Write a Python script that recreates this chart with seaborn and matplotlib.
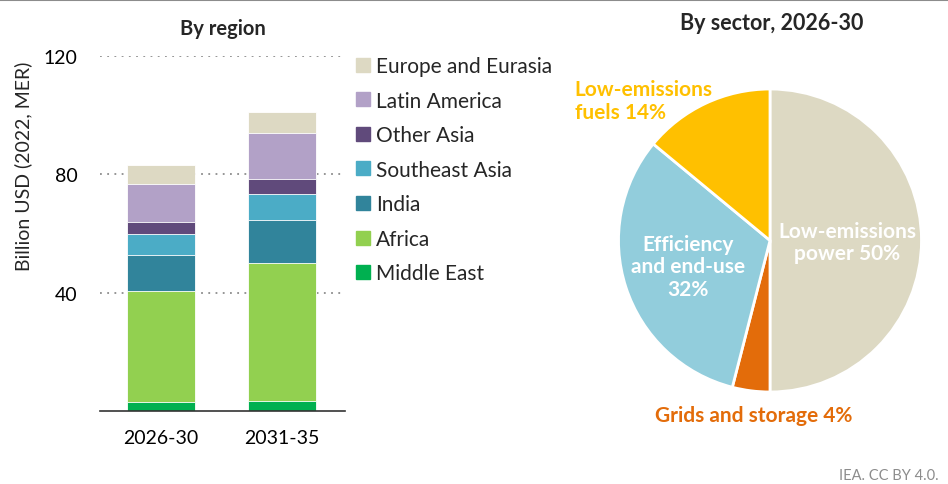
import numpy as np
import pandas as pd
import matplotlib.pyplot as plt
import seaborn as sns

# data
periods = ['2026-30', '2031-35']
regions = ['Middle East', 'Africa', 'India', 'Southeast Asia', 'Other Asia',
           'Latin America', 'Europe and Eurasia']
region_vals = {
    'Middle East': [3.2, 3.4],
    'Africa': [37.5, 46.5],
    'India': [12.0, 14.7],
    'Southeast Asia': [7.0, 8.7],
    'Other Asia': [4.1, 5.1],
    'Latin America': [13.0, 15.5],
    'Europe and Eurasia': [6.3, 7.1],
}
region_cols = ['#00B050', '#92D050', '#31849B', '#4BACC6', '#604A7B',
               '#B2A1C7', '#DDD9C3']

sectors = ['Low-emissions\npower 50%', 'Grids and storage 4%',
           'Efficiency\nand end-use\n32%', 'Low-emissions\nfuels 14%']
sector_share = [50, 4, 32, 14]
sector_cols = ['#DDD9C3', '#E36C0A', '#92CDDC', '#FFC000']

sns.set_theme(style='white')
plt.rcParams['font.family'] = ['Lato', 'DejaVu Sans']

fig = plt.figure(figsize=(9.48, 4.85), dpi=100)
ax = fig.add_axes([100 / 948, 1 - 412 / 485, 245 / 948, 355 / 485])

df = pd.DataFrame(region_vals, index=periods)
cum = df.cumsum(axis=1)
# draw cumulative totals from the top down so each segment shows
for reg, col in reversed(list(zip(regions, region_cols))):
    d = pd.DataFrame({'period': periods, 'val': cum[reg].values})
    sns.barplot(data=d, x='period', y='val', color=col, width=0.56,
                edgecolor='white', linewidth=0.6, saturation=1, ax=ax)

ax.set_xlim(-0.504, 1.52)
ax.set_ylim(0, 120)
ax.set_yticks([40, 80, 120])
ax.yaxis.grid(True, linestyle=(0, (1, 3)), color='#8C8C8C', linewidth=1.3)
ax.set_axisbelow(True)
for s in ['left', 'right', 'top']:
    ax.spines[s].set_visible(False)
ax.spines['bottom'].set_color('#333333')
ax.spines['bottom'].set_linewidth(1.2)
ax.tick_params(axis='both', labelsize=14, length=0, colors='black')
ax.tick_params(axis='y', pad=16)
ax.tick_params(axis='x', pad=13)
ax.set_xlabel('')
ax.set_ylabel('Billion USD (2022, MER)', fontsize=14)
ax.yaxis.set_label_coords(-0.278, 0.693)
ax.set_title('By region', fontsize=14.5, fontweight='bold', pad=16)

handles = [plt.Rectangle((0, 0), 1, 1, color=c) for c in region_cols]
fig.legend(handles[::-1], regions[::-1], loc='upper left',
           bbox_to_anchor=(356 / 948, 1 - 57 / 485), frameon=False,
           fontsize=15, handlelength=0.65, handleheight=0.65,
           labelspacing=0.7, handletextpad=0.3, borderpad=0,
           borderaxespad=0)

# pie
r = 153
pax = fig.add_axes([(770 - r) / 948, 1 - (241.5 + r) / 485,
                    2 * r / 948, 2 * r / 485])
wedges, _ = pax.pie(sector_share, colors=sector_cols, startangle=90,
                    counterclock=False,
                    wedgeprops=dict(edgecolor='white', linewidth=2))
pax.set_xlim(-1.01, 1.01)
pax.set_ylim(-1.01, 1.01)
pax.set_aspect('equal')
pax.text(0.51, -0.01, sectors[0], ha='center', va='center', color='white',
         fontsize=15, fontweight='bold', linespacing=1.15)
pax.text(-0.54, -0.17, sectors[2], ha='center', va='center', color='white',
         fontsize=15, fontweight='bold', linespacing=1.15)
pax.text(-0.11, -1.15, sectors[1], ha='center', va='center',
         color='#E36C0A', fontsize=15, fontweight='bold')
pax.text(-1.29, 0.925, sectors[3], ha='left', va='center',
         color='#FFC000', fontsize=15, fontweight='bold', linespacing=1.15)
fig.text(772 / 948, 1 - 23 / 485, 'By sector, 2026-30', ha='center',
         va='center', fontsize=15.5, fontweight='bold')

fig.text(0.99, 0.004, 'IEA. CC BY 4.0.', ha='right', va='bottom',
         fontsize=10.5, color='#8C8C8C')
fig.add_artist(plt.Line2D([0, 1], [0.998, 0.998], color='#8C8C8C',
                          linewidth=1.5))

fig.savefig('out.png', dpi=100)
